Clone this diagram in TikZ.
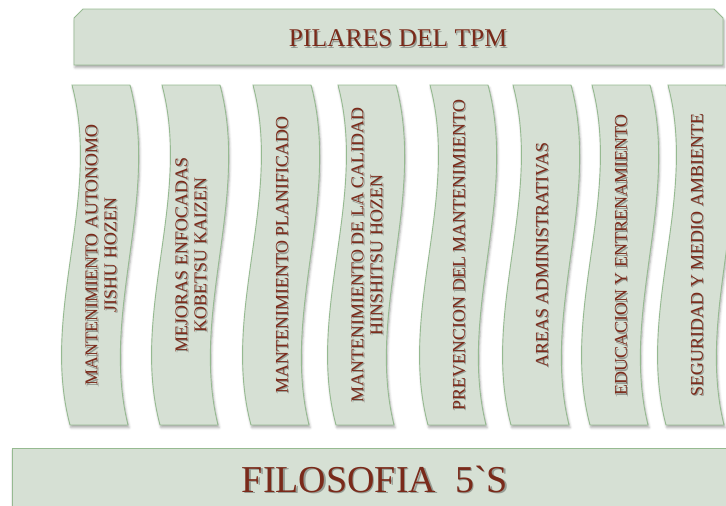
\documentclass[tikz,border=0pt]{standalone}
\usepackage{fontspec}
\setmainfont{Liberation Serif}
\newfontfamily\plainserif{Liberation Serif}
\usetikzlibrary{shadows.blur}
\definecolor{pfill}{RGB}{214,224,212}
\definecolor{pdraw}{RGB}{150,186,145}
\definecolor{ptext}{RGB}{122,42,26}
\tikzset{
  panel/.style={fill=pfill, draw=pdraw, line width=0.9pt,
    blur shadow={shadow xshift=1pt, shadow yshift=-2.5pt, shadow blur radius=2.5pt, shadow opacity=35}},
  lbl/.style={text=ptext, align=center, inner sep=0pt},
  lblsh/.style={text=black, opacity=0.3, align=center, inner sep=0pt},
  pfont/.style={font=\fontsize{18}{19}\selectfont},
}
\begin{document}
\begin{tikzpicture}[x=1pt,y=-1pt]
\useasboundingbox (0,0) rectangle (726,506);
\clip (0,0) rectangle (726,506);
% top banner
\path[panel] (74,18) -- (83,9) -- (714,9) -- (723,18) -- (723,65) -- (74,65) -- cycle;
\node[lblsh, font=\fontsize{25.5}{27}\selectfont] (tops) at (399.2,39.7) {PILARES DEL TPM};
\node[lbl, font=\fontsize{25.5}{27}\selectfont] (top) at (398,38.5) {PILARES DEL TPM};
% pillars
\foreach \x/\t/\n in {
  72/{MANTENIMIENTO AUTONOMO\\JISHU HOZEN}/p1,
  162/{MEJORAS ENFOCADAS\\KOBETSU KAIZEN}/p2,
  253/{MANTENIMIENTO PLANIFICADO}/p3,
  338/{MANTENIMIENTO DE LA CALIDAD\\HINSHITSU HOZEN}/p4,
  430/{PREVENCION DEL MANTENIMIENTO}/p5,
  513/{AREAS ADMINISTRATIVAS}/p6,
  592/{EDUCACION Y ENTRENAMIENTO}/p7,
  668/{SEGURIDAD Y MEDIO AMBIENTE}/p8}{
  \path[panel] (\x,85) -- (\x+58,85)
     .. controls (\x+88,198) and (\x+28,312) .. (\x+56,425)
     -- (\x-2,425)
     .. controls (\x-32,312) and (\x+30,198) .. cycle;
  \node[lblsh, pfont, rotate=90] (\n s) at (\x+30.2,256.2) {\t};
  \node[lbl, pfont, rotate=90] (\n) at (\x+29,255) {\t};
}
% bottom banner
\path[panel] (12,448) rectangle (740,520);
\node[lblsh, font=\plainserif\fontsize{38}{40}\selectfont] (bots) at (376.3,480.3) {FILOSOFIA\ \ 5`S};
\node[lbl, font=\plainserif\fontsize{38}{40}\selectfont] (bot) at (375,479) {FILOSOFIA\ \ 5`S};
\end{tikzpicture}
\end{document}
